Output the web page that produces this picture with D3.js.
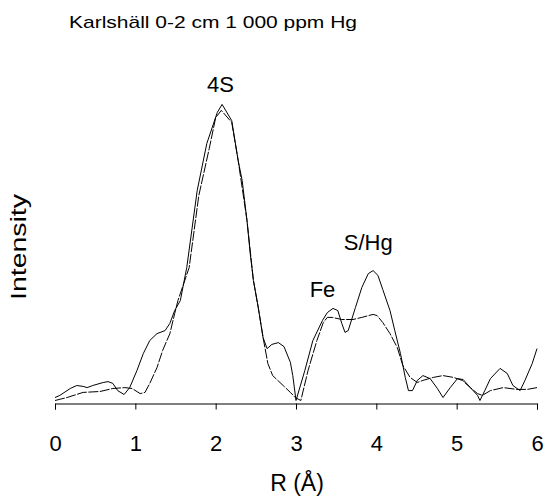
<!DOCTYPE html>
<html>
<head>
<meta charset="utf-8">
<script src="https://cdn.jsdelivr.net/npm/d3@7"></script>
<style>
  body { margin: 0; background: #fff; }
  text { font-family: "Liberation Sans", Arial, sans-serif; fill: #000; }
</style>
</head>
<body>
<div id="chart"></div>
<script>
// R (Å) and intensity
const expR = [0.00, 0.06, 0.19, 0.27, 0.35, 0.40, 0.47, 0.60, 0.66, 0.72, 0.78, 0.86, 0.93, 1.02, 1.10, 1.18, 1.27, 1.37, 1.43, 1.49, 1.56, 1.64, 1.77, 1.89, 2.02, 2.08, 2.20, 2.28, 2.33, 2.39, 2.43, 2.47, 2.53, 2.59, 2.64, 2.70, 2.78, 2.85, 2.93, 2.96, 3.00, 3.11, 3.21, 3.33, 3.39, 3.46, 3.52, 3.57, 3.61, 3.65, 3.74, 3.82, 3.90, 3.96, 4.02, 4.08, 4.17, 4.23, 4.30, 4.36, 4.40, 4.45, 4.51, 4.58, 4.67, 4.76, 4.83, 4.92, 5.01, 5.08, 5.17, 5.26, 5.29, 5.35, 5.42, 5.54, 5.63, 5.70, 5.79, 5.85, 5.94, 6.00];
const expI = [2.0, 2.7, 5.0, 6.0, 5.7, 5.3, 6.0, 7.0, 7.3, 6.7, 4.3, 3.0, 5.3, 11.0, 16.7, 21.0, 23.3, 24.3, 26.7, 31.0, 34.3, 45.3, 71.0, 86.7, 97.0, 99.7, 94.3, 81.0, 74.3, 61.0, 50.0, 41.0, 32.0, 22.0, 18.3, 19.7, 20.3, 19.0, 13.7, 9.3, 1.0, 11.0, 21.0, 27.7, 30.3, 31.7, 31.0, 26.7, 23.7, 24.3, 32.0, 38.7, 43.3, 44.3, 42.7, 38.0, 31.0, 24.3, 16.7, 8.7, 4.3, 4.3, 7.7, 9.3, 8.3, 5.0, 2.0, 5.3, 8.3, 8.0, 5.3, 2.7, 1.0, 4.3, 8.3, 11.7, 10.0, 6.0, 4.3, 7.7, 13.3, 18.3];

const fitR = [0.00, 0.15, 0.35, 0.56, 0.72, 0.87, 0.96, 1.06, 1.12, 1.18, 1.27, 1.34, 1.43, 1.49, 1.53, 1.67, 1.79, 1.92, 2.00, 2.07, 2.20, 2.28, 2.39, 2.47, 2.53, 2.59, 2.65, 2.71, 2.84, 2.93, 2.99, 3.06, 3.15, 3.26, 3.34, 3.39, 3.45, 3.57, 3.71, 3.82, 3.96, 4.01, 4.08, 4.17, 4.26, 4.33, 4.42, 4.51, 4.58, 4.71, 4.83, 4.96, 5.07, 5.17, 5.26, 5.32, 5.42, 5.58, 5.75, 5.88, 6.00];
const fitI = [1.0, 2.0, 3.7, 4.0, 5.0, 5.3, 5.0, 3.3, 3.7, 6.7, 12.0, 17.7, 23.3, 30.0, 34.3, 45.3, 69.3, 85.0, 95.3, 97.7, 93.7, 81.0, 61.0, 41.0, 32.0, 22.0, 13.3, 9.3, 6.0, 3.7, 2.0, 1.0, 11.0, 21.0, 27.0, 28.7, 28.7, 28.0, 28.0, 28.7, 29.7, 29.3, 27.0, 23.3, 18.7, 12.7, 8.7, 7.0, 7.7, 8.7, 9.3, 8.7, 7.7, 5.3, 3.3, 2.7, 4.3, 5.3, 4.7, 4.7, 5.3];

const xTicks = [0, 1, 2, 3, 4, 5, 6];

const peakNames = ["4S", "Fe", "S/Hg"];
const peakR = [2.06, 3.33, 3.90];
const peakI = [103.7, 35.5, 51.2];

const width = 546, height = 500;
const svg = d3.select("#chart").append("svg")
  .attr("width", width)
  .attr("height", height);

const x = d3.scaleLinear().domain([0, 6]).range([55, 537]);
const y = d3.scaleLinear().domain([0, 100]).range([403.5, 103.5]);

// x axis
const xAxis = svg.append("g")
  .attr("transform", `translate(0, ${y(0)})`)
  .call(d3.axisBottom(x).tickValues(xTicks).tickSize(6).tickPadding(26).tickFormat(d3.format("d")));
xAxis.select(".domain").attr("stroke", "#000");
xAxis.selectAll(".tick line").attr("stroke", "#000");
xAxis.selectAll("text")
  .style("font-family", "'Liberation Sans', Arial, sans-serif")
  .style("font-size", "22px");

// lines
const line = d3.line()
  .x(d => x(d[0]))
  .y(d => y(d[1]));

svg.append("path")
  .datum(d3.zip(fitR, fitI))
  .attr("d", line)
  .attr("fill", "none")
  .attr("stroke", "#000")
  .attr("stroke-width", 1)
  .attr("stroke-dasharray", "10,1.5");

svg.append("path")
  .datum(d3.zip(expR, expI))
  .attr("d", line)
  .attr("fill", "none")
  .attr("stroke", "#000")
  .attr("stroke-width", 1);

// peak labels
svg.selectAll(".peak")
  .data(peakNames)
  .join("text")
  .attr("class", "peak")
  .attr("x", (d, i) => x(peakR[i]))
  .attr("y", (d, i) => y(peakI[i]))
  .attr("text-anchor", "middle")
  .style("font-size", "22px")
  .text(d => d);

// title
svg.append("text")
  .attr("x", 69)
  .attr("y", 28)
  .attr("textLength", 288)
  .attr("lengthAdjust", "spacingAndGlyphs")
  .style("font-size", "17px")
  .text("Karlshäll 0-2 cm 1 000 ppm Hg");

// axis titles
svg.append("text")
  .attr("x", 297)
  .attr("y", 491)
  .attr("text-anchor", "middle")
  .style("font-size", "23px")
  .text("R (Å)");

svg.append("text")
  .attr("transform", "translate(26, 247) rotate(-90)")
  .attr("text-anchor", "middle")
  .attr("textLength", 106)
  .attr("lengthAdjust", "spacingAndGlyphs")
  .style("font-size", "22px")
  .text("Intensity");
</script>
</body>
</html>
